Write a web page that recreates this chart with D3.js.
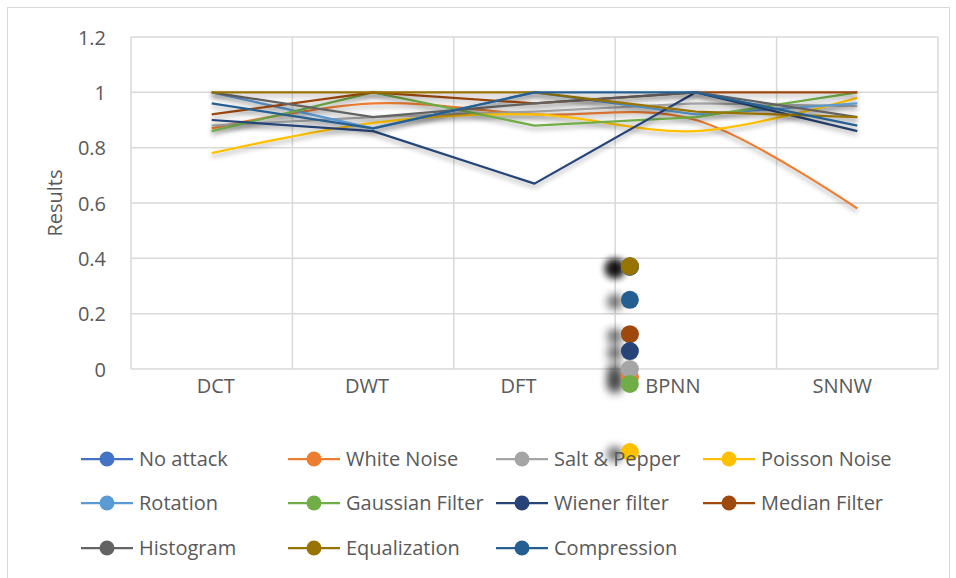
<!DOCTYPE html>
<html>
<head>
<meta charset="utf-8">
<script src="https://cdn.jsdelivr.net/npm/d3@7"></script>
<style>
  body { margin: 0; background: #fff; }
  text { font-family: "Open Sans", "Noto Sans", sans-serif; fill: #595959; }
</style>
</head>
<body>
<svg id="chart" width="956" height="578"></svg>
<script>
const categories = ["DCT", "DWT", "DFT", "BPNN", "SNNW"];
const seriesNames = ["No attack", "White Noise", "Salt & Pepper", "Poisson Noise", "Rotation",
  "Gaussian Filter", "Wiener filter", "Median Filter", "Histogram", "Equalization", "Compression"];
const colors = ["#4472C4", "#ED7D31", "#A5A5A5", "#FFC000", "#5B9BD5",
  "#70AD47", "#264478", "#9E480E", "#636363", "#997300", "#255E91"];

const noAttack     = [1.00, 1.00, 1.00, 1.00, 1.00];
const whiteNoise   = [0.87, 0.96, 0.92, 0.90, 0.58];
const saltPepper   = [0.88, 0.91, 0.93, 0.96, 0.95];
const poissonNoise = [0.78, 0.89, 0.92, 0.86, 0.98];
const rotation     = [1.00, 0.87, 1.00, 0.92, 0.96];
const gaussian     = [0.86, 1.00, 0.88, 0.91, 1.00];
const wiener       = [0.90, 0.86, 0.67, 1.00, 0.86];
const median       = [0.92, 1.00, 0.96, 1.00, 1.00];
const histogram    = [1.00, 0.91, 0.96, 1.00, 0.91];
const equalization = [1.00, 1.00, 1.00, 0.93, 0.91];
const compression  = [0.96, 0.87, 1.00, 1.00, 0.88];
const seriesValues = [noAttack, whiteNoise, saltPepper, poissonNoise, rotation,
  gaussian, wiener, median, histogram, equalization, compression];
// series drawn with Excel "smoothed line"
const smoothed = [false, true, false, true, false, false, false, false, false, false, false];

// stray markers stacked near BPNN (index into series, value)
const strayIdx = [0, 4, 8, 9, 10, 7, 6, 1, 2, 5, 3];
const strayVal = [0.37, 0.37, 0.37, 0.372, 0.25, 0.126, 0.065, -0.03, 0.0, -0.054, -0.30];

const yTicks = [0, 0.2, 0.4, 0.6, 0.8, 1, 1.2];
const labelShift = [4, -6, -16, -23, -15];

const svg = d3.select("#chart");
const pLeft = 131, pRight = 938, pTop = 37, pBottom = 369;

const defs = svg.append("defs");
const f = defs.append("filter").attr("id", "shadow")
  .attr("x", "-10%").attr("y", "-30%").attr("width", "120%").attr("height", "160%");
f.append("feDropShadow").attr("dx", 0).attr("dy", 3).attr("stdDeviation", 2.5)
  .attr("flood-color", "#000").attr("flood-opacity", 0.35);
const blur = defs.append("filter").attr("id", "blob")
  .attr("x", "-100%").attr("y", "-100%").attr("width", "300%").attr("height", "300%");
blur.append("feGaussianBlur").attr("stdDeviation", 4);

// outer chart border
svg.append("rect").attr("x", 7.5).attr("y", 7.5).attr("width", 942).attr("height", 580)
  .attr("fill", "none").attr("stroke", "#d9d9d9");

const x = d3.scaleBand().domain(categories).range([pLeft, pRight]);
const y = d3.scaleLinear().domain([0, 1.2]).range([pBottom, pTop]);

// gridlines
svg.append("g").selectAll("line").data(yTicks).join("line")
  .attr("x1", pLeft).attr("x2", pRight)
  .attr("y1", d => y(d)).attr("y2", d => y(d))
  .attr("stroke", "#d9d9d9").attr("stroke-width", 1.5);
const vlines = categories.map(c => x(c)).concat([pRight]);
svg.append("g").selectAll("line").data(vlines).join("line")
  .attr("x1", d => d).attr("x2", d => d)
  .attr("y1", pTop).attr("y2", pBottom)
  .attr("stroke", "#d9d9d9").attr("stroke-width", 1.5);

// y axis labels
const yAxis = svg.append("g").attr("transform", `translate(${pLeft - 22},0)`)
  .call(d3.axisLeft(y).tickValues(yTicks).tickSize(0).tickFormat(d => String(+d.toFixed(1))));
yAxis.select(".domain").remove();
yAxis.selectAll("text").attr("font-size", 20).attr("dy", "0.35em").style("fill", "#595959")
  .attr("font-family", "Open Sans");

// x axis labels
const xAxis = svg.append("g").attr("transform", `translate(0,${pBottom})`)
  .call(d3.axisBottom(x).tickSize(0).tickPadding(10));
xAxis.select(".domain").remove();
xAxis.selectAll("text").attr("font-size", 20).style("fill", "#595959")
  .attr("font-family", "Open Sans")
  .attr("dx", (d, i) => labelShift[i]);

svg.append("text").attr("transform", "translate(62,203) rotate(-90)")
  .attr("text-anchor", "middle").attr("font-size", 20).text("Results");

// lines
const cx = c => x(c) + x.bandwidth() / 2;
const lineG = svg.append("g");
seriesValues.forEach((vals, i) => {
  const line = d3.line()
    .x((d, j) => cx(categories[j]))
    .y(d => y(d))
    .curve(smoothed[i] ? d3.curveCardinal.tension(0) : d3.curveLinear);
  lineG.append("path").datum(vals)
    .attr("d", line)
    .attr("fill", "none")
    .attr("stroke", colors[i])
    .attr("stroke-width", 2.25)
    .attr("stroke-linejoin", "round")
    .attr("filter", "url(#shadow)");
});

// stray markers near BPNN
const mx = cx("BPNN") - 66;
const strayG = svg.append("g");
strayG.selectAll("circle.sh").data(strayVal).join("circle")
  .attr("class", "sh")
  .attr("cx", mx - 15).attr("cy", d => y(d) + 2).attr("r", 8)
  .attr("fill", "#000").attr("opacity", 0.55).attr("filter", "url(#blob)");
strayG.selectAll("circle.mk").data(strayVal).join("circle")
  .attr("class", "mk")
  .attr("cx", mx).attr("cy", d => y(d)).attr("r", 9)
  .attr("fill", (d, i) => colors[strayIdx[i]]);

// legend
const legCols = [81, 288, 496, 703];
const legRows = [459, 503, 548];
const leg = svg.append("g");
seriesNames.forEach((name, i) => {
  const lx = legCols[i % 4], ly = legRows[Math.floor(i / 4)];
  const g = leg.append("g").attr("transform", `translate(${lx},${ly})`);
  g.append("line").attr("x1", 0).attr("x2", 52).attr("y1", 0).attr("y2", 0)
    .attr("stroke", colors[i]).attr("stroke-width", 2.25);
  g.append("circle").attr("cx", 26).attr("cy", 0).attr("r", 7.5).attr("fill", colors[i]);
  g.append("text").attr("x", 58).attr("y", 0).attr("dy", "0.35em")
    .attr("font-size", 20).text(name);
});
</script>
</body>
</html>
